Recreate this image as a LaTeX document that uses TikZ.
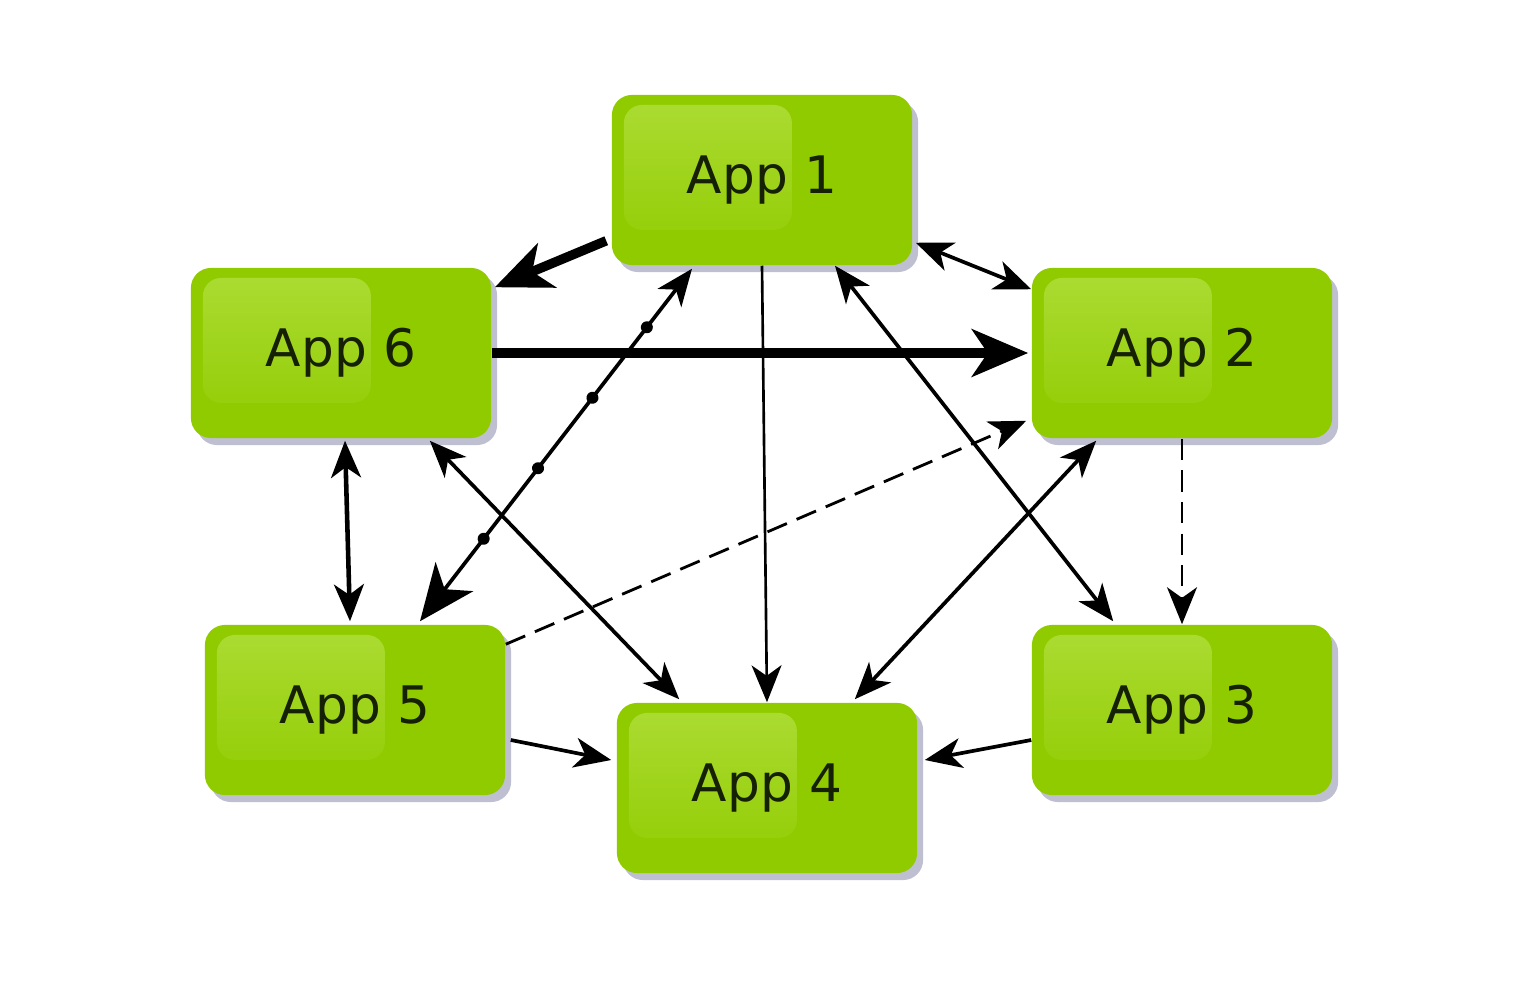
\documentclass[tikz,border=0pt]{standalone}
\usepackage{fontspec}
\setmainfont{DejaVu Sans}
\usetikzlibrary{arrows.meta,shadows,decorations.markings,calc}
\definecolor{appgreen}{RGB}{144,203,0}
\definecolor{appgreenlight}{RGB}{172,220,52}
\definecolor{apptext}{RGB}{22,32,4}
\tikzset{
  Tn/.tip={Stealth[length=10.5pt,width=8.5pt,inset=3pt]},
  Tb/.tip={Stealth[length=16pt,width=13.5pt,inset=4.5pt]},
}
\begin{document}
\begin{tikzpicture}[x=0.01cm,y=-0.01cm,
  appbox/.style={rectangle, rounded corners=0.2cm, minimum width=3cm, minimum height=1.7cm,
    fill=appgreen, draw=none, text=apptext, font=\fontsize{14.7}{17}\selectfont,
    drop shadow={shadow xshift=0.06cm, shadow yshift=-0.07cm, opacity=0.25, fill=black!70!blue},
    path picture={\shade[top color=appgreenlight, bottom color=appgreen, rounded corners=0.18cm]
      ($(path picture bounding box.north west)+(12,10)$) rectangle
      ($(path picture bounding box.north west)+(180,135)$);}},
  thinline/.style={line width=0.75pt},
  normline/.style={line width=1.05pt},
  midline/.style={line width=1.3pt},
  thickline/.style={line width=2.7pt},
  dashline/.style={line width=0.8pt, dash pattern=on 6pt off 3pt},
  dotmarks/.style={postaction={decorate, decoration={markings,
    mark=at position 0.234 with {\fill (0,0) circle (0.06cm);},
    mark=at position 0.434 with {\fill (0,0) circle (0.06cm);},
    mark=at position 0.634 with {\fill (0,0) circle (0.06cm);},
    mark=at position 0.834 with {\fill (0,0) circle (0.06cm);}}}},
]
\useasboundingbox (0,0) rectangle (1524,994);
\fill[white] (0,0) rectangle (1524,994);

\node[appbox] (a1) at (762,180) {App 1};
\node[appbox] (a6) at (341,353) {App 6};
\node[appbox] (a2) at (1182,353) {App 2};
\node[appbox] (a5) at (355,710) {App 5};
\node[appbox] (a4) at (767,788) {App 4};
\node[appbox] (a3) at (1182,710) {App 3};

% App 1 -> App 6 (thick)
\draw[thickline,-Tb] ([shift={(-5,-25)}]a1.south west) -- ([shift={(3,20)}]a6.north east);
% App 1 <-> App 2
\draw[normline,Tn-Tn] ([shift={(3,-23)}]a1.south east) -- ([shift={(0,22)}]a2.north west);
% App 6 -> App 2 (thick)
\draw[thickline,-Tb] (a6.east) -- ([xshift=-0.03cm]a2.west);
% App 1 -> App 4
\draw[thinline,-Tn] (a1.south) -- (a4.north);
% App 1 <-> App 3
\draw[normline,Tn-Tn] ([shift={(73,0)}]a1.south) -- ([shift={(82,-3)}]a3.north west);
% App 5 <-> App 1 (dotted)
\draw[normline,Tb-Tn,dotmarks] ([shift={(65,-3)}]a5.north) -- ([shift={(-70,3)}]a1.south);
% App 6 <-> App 5
\draw[midline,Tn-Tn] ([shift={(4,2)}]a6.south) -- ([shift={(-5,-3)}]a5.north);
% App 6 <-> App 4
\draw[normline,Tn-Tn] ([shift={(-62,2)}]a6.south east) -- ([shift={(63,-3)}]a4.north west);
% App 5 -> App 2 (dashed)
\draw[dashline,-Tn] ([shift={(0,20)}]a5.north east) -- ([shift={(-5,-18)}]a2.south west);
% App 2 <-> App 4
\draw[normline,Tn-Tn] ([shift={(65,2)}]a2.south west) -- ([shift={(-63,-3)}]a4.north east);
% App 2 -> App 3 (dashed)
\draw[dashline,-Tn] (a2.south) -- (a3.north);
% App 5 -> App 4
\draw[normline,-Tn] ([shift={(5,30)}]a5.east) -- ([shift={(-5,-28)}]a4.west);
% App 3 -> App 4
\draw[normline,-Tn] ([shift={(0,30)}]a3.west) -- ([shift={(7,-28)}]a4.east);
\end{tikzpicture}
\end{document}
